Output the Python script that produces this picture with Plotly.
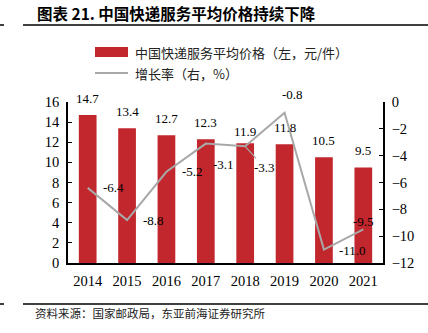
import plotly.graph_objects as go

years = ["2014", "2015", "2016", "2017", "2018", "2019", "2020", "2021"]
price = [14.7, 13.4, 12.7, 12.3, 11.9, 11.8, 10.5, 9.5]
growth = [-6.4, -8.8, -5.2, -3.1, -3.3, -0.8, -11.0, -9.5]

title_text = "图表 21. 中国快递服务平均价格持续下降"
legend_bar = "中国快递服务平均价格（左，元/件）"
legend_line = "增长率（右，%）"
source_text = "资料来源：国家邮政局，东亚前海证券研究所"

RED = "#C1272D"
GRAY = "#A8A8A8"
W, H = 428, 333
L, R, T, B = 68, 383, 102, 263
SERIF = "Liberation Serif, Times New Roman, serif"
CJK = "Noto Sans CJK SC, sans-serif"


def px(x):
    return (x - L) / (R - L)


def py(y):
    return (B - y) / (B - T)


fig = go.Figure()
fig.add_trace(go.Bar(x=years, y=price, marker_color=RED, width=0.45,
                     marker_line_width=0, yaxis="y", showlegend=False))
fig.add_trace(go.Scatter(x=years, y=growth, mode="lines", yaxis="y2",
                         line=dict(color=GRAY, width=2), showlegend=False))

ann = []
# bar value labels (x given as category index)
for i, (yr, v) in enumerate(zip(years, price)):
    ys = 2 if yr == "2018" else 7
    ann.append(dict(x=i, y=v, xref="x", yref="y", text=f"{v:.1f}",
                    showarrow=False, yanchor="bottom", yshift=ys,
                    font=dict(family=SERIF, size=13, color="black")))

# growth labels (offsets in px), some with leader lines
offs = {"2014": (26, 0), "2015": (26, 0), "2016": (26, 0),
        "2019": (8, 18), "2020": (29, -1), "2021": (0, 8)}
leaders = {"2017": (18, 21), "2018": (19, 21)}
for i, (yr, v) in enumerate(zip(years, growth)):
    if yr in leaders:
        ax, ay = leaders[yr]
        ann.append(dict(x=i, y=v, xref="x", yref="y2", text=f"{v:.1f}",
                        showarrow=True, arrowhead=0, arrowwidth=1.2,
                        arrowcolor=GRAY, ax=ax, ay=ay, standoff=0,
                        font=dict(family=SERIF, size=13, color="black")))
    else:
        dx, dy = offs[yr]
        ann.append(dict(x=i, y=v, xref="x", yref="y2", text=f"{v:.1f}",
                        showarrow=False, xshift=dx, yshift=dy,
                        font=dict(family=SERIF, size=13, color="black")))

# title, legend text, source
ann.append(dict(x=px(35), y=py(13), xref="paper", yref="paper", text=f"<b>{title_text}</b>",
                showarrow=False, xanchor="left", yanchor="middle",
                font=dict(family=CJK, size=15.5, color="black")))
ann.append(dict(x=px(133), y=py(52), xref="paper", yref="paper", text=legend_bar,
                showarrow=False, xanchor="left", yanchor="middle",
                font=dict(family=CJK, size=13, color="#222")))
ann.append(dict(x=px(133), y=py(73), xref="paper", yref="paper", text=legend_line,
                showarrow=False, xanchor="left", yanchor="middle",
                font=dict(family=CJK, size=13, color="#222")))
ann.append(dict(x=px(33), y=py(313), xref="paper", yref="paper", text=source_text,
                showarrow=False, xanchor="left", yanchor="middle",
                font=dict(family=CJK, size=11.5, color="#222")))

shapes = [
    dict(type="line", xref="paper", yref="paper", x0=px(23), x1=px(428), y0=py(25), y1=py(25),
         line=dict(color="black", width=1.5)),
    dict(type="line", xref="paper", yref="paper", x0=px(0), x1=px(4), y0=py(25), y1=py(25),
         line=dict(color="black", width=1.5)),
    dict(type="line", xref="paper", yref="paper", x0=px(23), x1=px(428), y0=py(304), y1=py(304),
         line=dict(color="black", width=1.5)),
    dict(type="line", xref="paper", yref="paper", x0=px(0), x1=px(4), y0=py(304), y1=py(304),
         line=dict(color="black", width=1.5)),
    dict(type="rect", xref="paper", yref="paper", x0=px(95), x1=px(128), y0=py(57), y1=py(47),
         fillcolor=RED, line=dict(width=0)),
    dict(type="line", xref="paper", yref="paper", x0=px(95), x1=px(128), y0=py(73), y1=py(73),
         line=dict(color=GRAY, width=2)),
]

fig.update_layout(
    width=W, height=H,
    margin=dict(l=L, r=W - R, t=T, b=H - B),
    paper_bgcolor="white", plot_bgcolor="white",
    bargap=0.55,
    xaxis=dict(type="category", range=[-0.5, len(years) - 0.5], showline=True,
               linecolor="black", linewidth=1.5, ticks="",
               tickfont=dict(family=SERIF, size=14.5, color="black"),
               showgrid=False, zeroline=False, fixedrange=True, ticklabelstandoff=4),
    yaxis=dict(range=[0, 16], dtick=2, showline=True, linecolor="black", linewidth=1.5,
               ticks="inside", ticklen=4, tickcolor="black",
               tickfont=dict(family=SERIF, size=14.5, color="black"),
               showgrid=False, zeroline=False, ticklabelstandoff=4),
    yaxis2=dict(range=[-12, 0], dtick=2, overlaying="y", side="right", showline=True,
                linecolor="black", linewidth=1.5, ticks="inside", ticklen=4, tickcolor="black",
                tickfont=dict(family=SERIF, size=14.5, color="black"),
                showgrid=False, zeroline=False, ticklabelstandoff=4),
    annotations=ann, shapes=shapes,
)

fig.write_html("out.html")
